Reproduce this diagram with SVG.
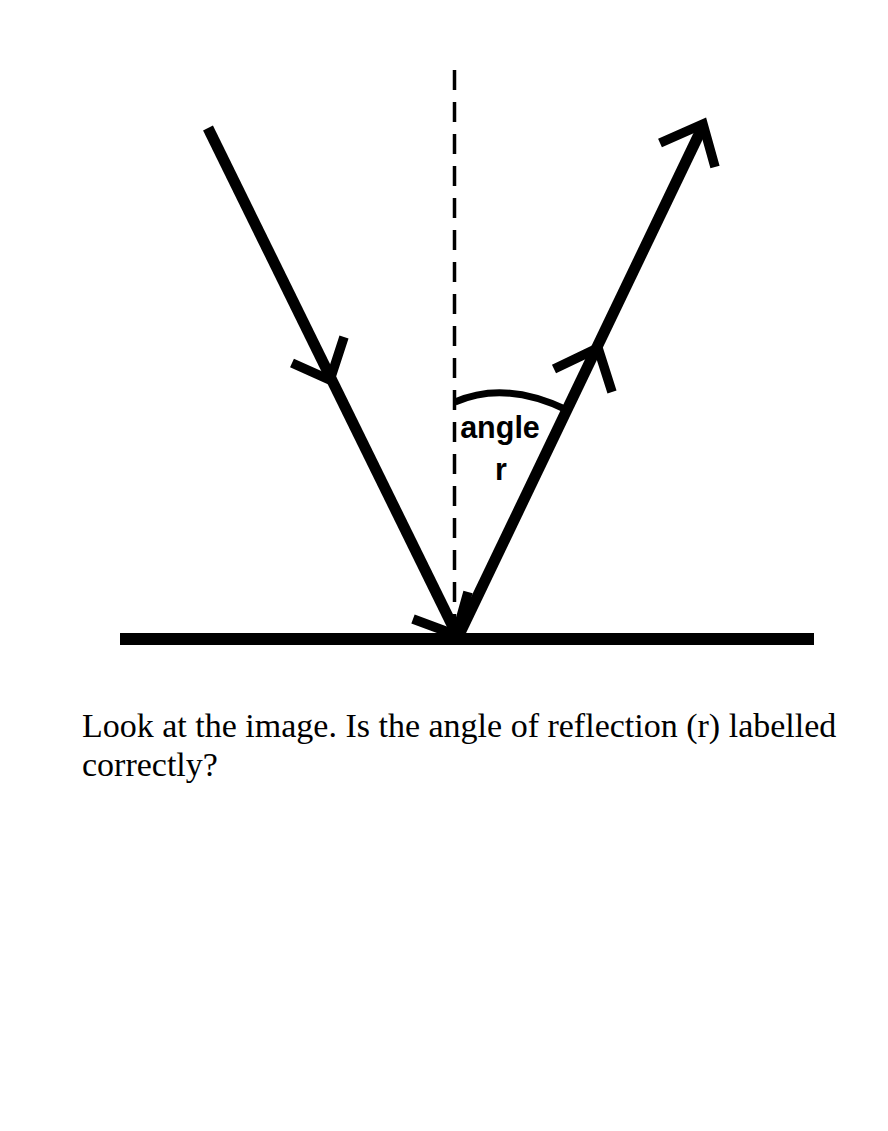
<svg xmlns="http://www.w3.org/2000/svg" width="888" height="1131" viewBox="0 0 888 1131">
  <style>
    .ray { fill: none; stroke: #000; stroke-width: 11; stroke-linecap: butt; stroke-linejoin: miter; }
    .head { fill: none; stroke: #000; stroke-width: 9.5; stroke-linecap: butt; stroke-linejoin: miter; stroke-miterlimit: 10; }
    .normal { fill: none; stroke: #000; stroke-width: 3.5; stroke-dasharray: 20 12; }
    .arc { fill: none; stroke: #000; stroke-width: 7; }
    .lbl { font-family: "Liberation Sans", Arial, sans-serif; font-weight: bold; font-size: 30.5px; fill: #000; text-anchor: middle; }
    .q { font-family: "Liberation Serif", "Times New Roman", serif; font-size: 34px; fill: #000; }
  </style>
  <rect width="888" height="1131" fill="#fff"/>
  <g id="mirror">
    <rect x="120" y="633" width="694" height="12" fill="#000"/>
  </g>
  <g id="normal">
    <line class="normal" x1="454.5" y1="70" x2="454.5" y2="634"/>
  </g>
  <g id="connectors">
    <g id="incident-ray">
      <line class="ray" x1="208" y1="128" x2="458" y2="637"/>
      <polyline class="head" points="292,363 330,380 344,337"/>
      <polyline class="head" points="413,619 456,635 468,592"/>
    </g>
    <g id="reflected-ray">
      <line class="ray" x1="458" y1="637" x2="703" y2="126"/>
      <polyline class="head" points="554,369 598,348 612,392"/>
      <polyline class="head" points="660,143 703,124 715,167"/>
    </g>
  </g>
  <g id="angle-label">
    <path class="arc" d="M455,402 Q505,380 567,410"/>
    <text class="lbl" x="500" y="438">angle</text>
    <text class="lbl" x="501" y="480">r</text>
  </g>
  <g id="question">
    <text class="q" x="82" y="737">Look at the image. Is the angle of reflection (r) labelled</text>
    <text class="q" x="82" y="776">correctly?</text>
  </g>
</svg>
